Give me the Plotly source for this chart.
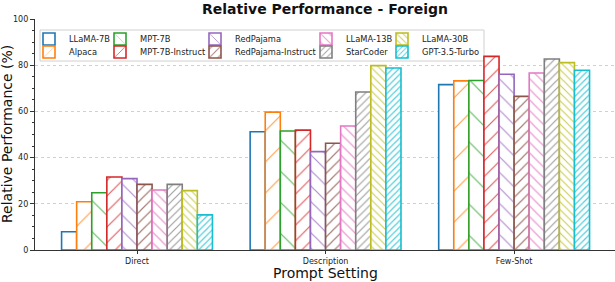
import plotly.graph_objects as go

categories = ["Direct", "Description", "Few-Shot"]
models = ["LLaMA-7B", "Alpaca", "MPT-7B", "MPT-7B-Instruct", "RedPajama",
          "RedPajama-Instruct", "LLaMA-13B", "StarCoder", "LLaMA-30B", "GPT-3.5-Turbo"]
values = {
    "LLaMA-7B":           [7.9, 51.2, 71.6],
    "Alpaca":             [20.9, 59.7, 73.2],
    "MPT-7B":             [24.8, 51.5, 73.4],
    "MPT-7B-Instruct":    [31.6, 51.9, 83.8],
    "RedPajama":          [30.9, 42.6, 76.1],
    "RedPajama-Instruct": [28.4, 46.2, 66.5],
    "LLaMA-13B":          [26.0, 53.7, 76.6],
    "StarCoder":          [28.4, 68.4, 82.7],
    "LLaMA-30B":          [25.7, 79.8, 81.1],
    "GPT-3.5-Turbo":      [15.2, 78.8, 77.8],
}
colors = ["#1f77b4", "#ff7f0e", "#2ca02c", "#d62728", "#9467bd",
          "#8c564b", "#e377c2", "#7f7f7f", "#bcbd22", "#17becf"]
hatch_shapes = ["", "/", "\\", "/", "\\", "/", "\\", "/", "\\", "/"]
hatch_sizes = [10, 22, 22, 11, 11, 7.5, 7.5, 5.5, 5.5, 4.5]

FONT = "DejaVu Sans"
fig = go.Figure()

# legend layout: column-major, 2 rows x 5 columns
text_x = [69, 69, 140, 140, 235, 235, 346, 346, 422, 422]
row_y = [38, 51]
PL, PT, PW, PH = 35, 19, 580, 231

for i, m in enumerate(models):
    row = i % 2
    lname = "legend" if i == 0 else f"legend{i+1}"
    marker = dict(color="white", line=dict(color=colors[i], width=1.6))
    if hatch_shapes[i]:
        marker["pattern"] = dict(shape=hatch_shapes[i], size=hatch_sizes[i],
                                 solidity=min(0.28, 1.2 / hatch_sizes[i]),
                                 fgcolor=colors[i], bgcolor="white", fillmode="overlay",
                                 fgopacity=0.75)
    fig.add_trace(go.Bar(
        x=categories, y=values[m], name=m, marker=marker, legend=lname, showlegend=True,
    ))
    fig.update_layout(**{lname: dict(
        x=(text_x[i] - 40 - PL) / PW, y=(PT + PH - (row_y[row] - 13.5)) / PH,
        xanchor="left", yanchor="top",
        bgcolor="rgba(0,0,0,0)", borderwidth=0,
        font=dict(family=FONT, size=8.3, color="#222"),
        itemwidth=30, visible=True,
    )})

fig.add_shape(type="rect", xref="paper", yref="paper",
              x0=(40 - PL) / PW, x1=(484 - PL) / PW,
              y0=(250 - 61) / PH, y1=(250 - 30) / PH,
              line=dict(color="#d0d0d0", width=1), fillcolor="rgba(255,255,255,0.8)",
              layer="below")

# axis titles
fig.add_annotation(text="Prompt Setting", xref="paper", yref="paper",
                   x=0.5, y=(250 - 272.5) / PH, xanchor="center", yanchor="middle",
                   showarrow=False, font=dict(family=FONT, size=14, color="#111"))
fig.add_annotation(text="Relative Performance (%)", xref="paper", yref="paper",
                   x=(6.5 - PL) / PW, y=0.5, xanchor="center", yanchor="middle",
                   textangle=-90, showarrow=False, font=dict(family=FONT, size=14, color="#111"))

fig.update_layout(
    width=615, height=282,
    showlegend=True,
    margin=dict(l=35, r=0, t=19, b=32, autoexpand=False),
    plot_bgcolor="white", paper_bgcolor="white",
    barmode="group", bargap=0.2, bargroupgap=0,
    font=dict(family=FONT, color="#222"),
    title=dict(text="<b>Relative Performance - Foreign</b>", x=325 / 615, xanchor="center",
               y=1 - 9 / 282, yanchor="middle", font=dict(family=FONT, size=14, color="#111")),
    xaxis=dict(
        range=[-0.541, 2.535], showline=True, linecolor="#333", linewidth=1.3,
        ticks="outside", ticklen=3, tickcolor="#333",
        tickfont=dict(family=FONT, size=8, color="#222"),
        showgrid=False, zeroline=False, automargin=False,
    ),
    yaxis=dict(
        range=[0, 100], showline=True, linecolor="#333", linewidth=1.3,
        dtick=20, tick0=0, ticks="outside", ticklen=4, tickcolor="#333",
        tickfont=dict(family=FONT, size=8, color="#222"),
        minor=dict(dtick=5, ticks="outside", ticklen=2, tickcolor="#333", showgrid=False),
        showgrid=True, gridcolor="#d0d0d0", griddash="dot", gridwidth=1,
        zeroline=False, automargin=False,
    ),
)

fig.write_html("out.html", config={"displayModeBar": False},
               post_script="document.body.style.margin='0';")
